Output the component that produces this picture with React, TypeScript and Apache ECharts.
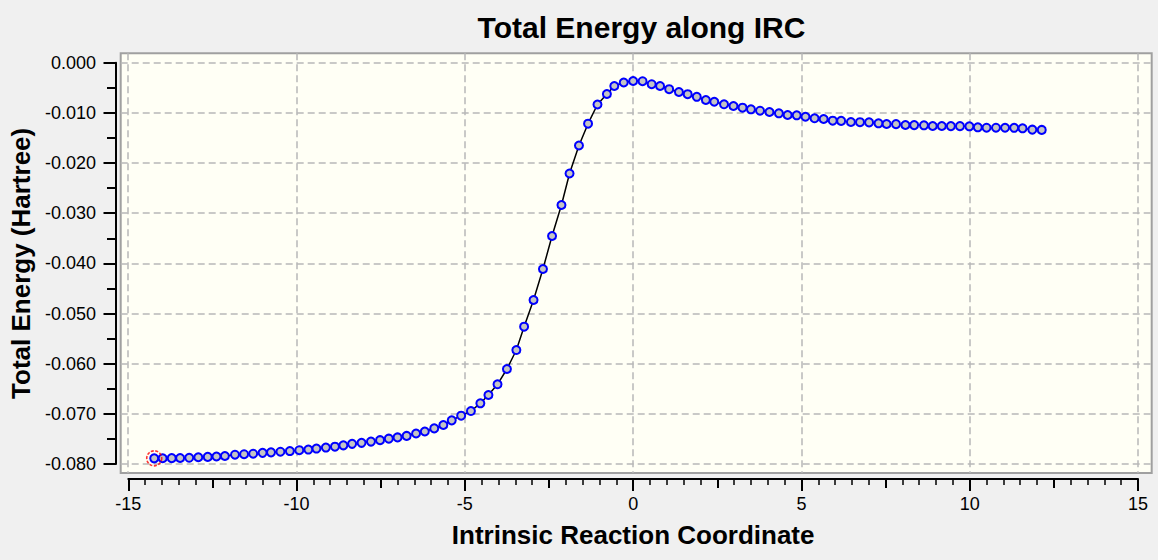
import React, { useEffect, useRef } from "react";
import * as echarts from "echarts";

// IRC coordinate of each computed point
const IRC_X = [
  -14.23, -13.98, -13.71, -13.46, -13.19, -12.92, -12.64, -12.38, -12.13, -11.83,
  -11.56, -11.29, -11.01, -10.76, -10.48, -10.2, -9.92, -9.65, -9.41, -9.13,
  -8.86, -8.61, -8.35, -8.07, -7.79, -7.52, -7.26, -7.0, -6.73, -6.45,
  -6.19, -5.91, -5.64, -5.39, -5.11, -4.82, -4.54, -4.3, -4.03, -3.75,
  -3.47, -3.24, -2.96, -2.68, -2.41, -2.13, -1.89, -1.61, -1.34, -1.06,
  -0.78, -0.56, -0.28, 0.0, 0.28, 0.55, 0.8, 1.07, 1.36, 1.62,
  1.89, 2.16, 2.41, 2.7, 2.98, 3.25, 3.5, 3.77, 4.05, 4.33,
  4.59, 4.86, 5.12, 5.39, 5.66, 5.93, 6.18, 6.47, 6.74, 7.01,
  7.29, 7.53, 7.81, 8.09, 8.35, 8.64, 8.9, 9.17, 9.44, 9.71,
  9.99, 10.24, 10.5, 10.78, 11.05, 11.32, 11.57, 11.86, 12.14,
];

// Total energy (Hartree) at each point
const ENERGY = [
  -0.07887, -0.07885, -0.07883, -0.0788, -0.07876, -0.07865, -0.07858, -0.0785, -0.0784, -0.07815,
  -0.07805, -0.07795, -0.07778, -0.07768, -0.07755, -0.07742, -0.07725, -0.07712, -0.07692, -0.07672,
  -0.07655, -0.07628, -0.07598, -0.07578, -0.07553, -0.07525, -0.07495, -0.0747, -0.0744, -0.07392,
  -0.07352, -0.0729, -0.07223, -0.0713, -0.07037, -0.06944, -0.0679, -0.06625, -0.06411, -0.06106,
  -0.05728, -0.05263, -0.04731, -0.04113, -0.03455, -0.02837, -0.02209, -0.01651, -0.01216, -0.00833,
  -0.00624, -0.00465, -0.00395, -0.00365, -0.00369, -0.00429, -0.00465, -0.00528, -0.00584, -0.00628,
  -0.0068, -0.00744, -0.00778, -0.00829, -0.00863, -0.00897, -0.00929, -0.00957, -0.00983, -0.01009,
  -0.01043, -0.01049, -0.01077, -0.01108, -0.01122, -0.01156, -0.0116, -0.01182, -0.01186, -0.0119,
  -0.01208, -0.01222, -0.01225, -0.01242, -0.01244, -0.01248, -0.01262, -0.01262, -0.01264, -0.01265,
  -0.01268, -0.01288, -0.01296, -0.01296, -0.01297, -0.01298, -0.01308, -0.01335, -0.0134,
];

const X_TICKS = [-15, -10, -5, 0, 5, 10, 15];
const Y_TICKS = [0, -0.01, -0.02, -0.03, -0.04, -0.05, -0.06, -0.07, -0.08];

const FONT = "'Liberation Sans', Arial, sans-serif";

export default function App() {
  const ref = useRef<HTMLDivElement>(null);

  useEffect(() => {
    if (!ref.current) return;
    const chart = echarts.init(ref.current, null, { renderer: "svg" });
    const gridLine = {
      show: true,
      lineStyle: { color: "#B8B8B8", width: 1.5, type: [7, 4] as any },
    };
    const option: any = {
      animation: false,
      backgroundColor: "#F0F0F0",
      title: {
        text: "Total Energy along IRC",
        left: 636.5,
        top: 7,
        textAlign: "center",
        textStyle: { fontFamily: FONT, fontWeight: "bold", fontSize: 30, color: "#000" },
      },
      grid: [
        {
          left: 120.7,
          top: 53.3,
          width: 1031,
          height: 419.7,
          show: true,
          backgroundColor: "#FFFFF5",
          borderColor: "#A0A0A0",
          borderWidth: 2,
        },
        { left: 128, top: 62.7, width: 1010, height: 401.3 },
      ],
      xAxis: [
        {
          gridIndex: 0,
          type: "value",
          min: -15.215,
          max: 15.405,
          axisLine: { show: false },
          axisTick: { show: false, customValues: X_TICKS },
          axisLabel: { show: false, customValues: X_TICKS },
          splitLine: gridLine,
        },
        {
          gridIndex: 1,
          type: "value",
          position: "bottom",
          min: -15,
          max: 15,
          interval: 5,
          offset: 15,
          axisLine: { show: true, onZero: false, lineStyle: { color: "#000", width: 2 } },
          axisTick: { show: true, length: 12, lineStyle: { color: "#000", width: 2 } },
          minorTick: { show: true, splitNumber: 10, length: 6, lineStyle: { color: "#000", width: 1.5 } },
          axisLabel: { margin: 16, fontSize: 18, color: "#000", fontFamily: FONT },
          splitLine: { show: false },
          name: "Intrinsic Reaction Coordinate",
          nameLocation: "middle",
          nameGap: 43,
          nameTextStyle: { fontFamily: FONT, fontWeight: "bold", fontSize: 26, color: "#000" },
        },
        {
          gridIndex: 1,
          type: "value",
          position: "bottom",
          min: -15,
          max: 15,
          interval: 2.5,
          offset: 15,
          axisLine: { show: false, onZero: false },
          axisTick: { show: true, length: 9, lineStyle: { color: "#000", width: 2 } },
          axisLabel: { show: false },
          splitLine: { show: false },
        },
      ],
      yAxis: [
        {
          gridIndex: 0,
          type: "value",
          min: -0.0818,
          max: 0.00187,
          axisLine: { show: false },
          axisTick: { show: false, customValues: Y_TICKS },
          axisLabel: { show: false, customValues: Y_TICKS },
          splitLine: gridLine,
        },
        {
          gridIndex: 1,
          type: "value",
          position: "left",
          min: -0.08,
          max: 0,
          interval: 0.01,
          offset: 12.3,
          axisLine: { show: true, onZero: false, lineStyle: { color: "#000", width: 2 } },
          axisTick: { show: true, length: 12.5, lineStyle: { color: "#000", width: 2 } },
          minorTick: { show: true, splitNumber: 2, length: 9, lineStyle: { color: "#000", width: 2 } },
          axisLabel: {
            margin: 20,
            fontSize: 18,
            color: "#000",
            fontFamily: FONT,
            formatter: (v: number) => v.toFixed(3),
          },
          splitLine: { show: false },
          name: "Total Energy (Hartree)",
          nameLocation: "middle",
          nameGap: 82,
          nameTextStyle: { fontFamily: FONT, fontWeight: "bold", fontSize: 26, color: "#000" },
        },
      ],
      series: [
        {
          type: "line",
          xAxisIndex: 1,
          yAxisIndex: 1,
          data: IRC_X.map((x, i) => [x, ENERGY[i]]),
          symbol: "circle",
          symbolSize: 8,
          showSymbol: true,
          showAllSymbol: true,
          lineStyle: { color: "#000", width: 1.5 },
          itemStyle: { color: "#C4C4C4", borderColor: "#0000FF", borderWidth: 2 },
          z: 3,
        },
        {
          type: "scatter",
          xAxisIndex: 1,
          yAxisIndex: 1,
          data: [[IRC_X[0], ENERGY[0]]],
          symbol: "circle",
          symbolSize: 15,
          itemStyle: {
            color: "rgba(0,0,0,0)",
            borderColor: "#FF0000",
            borderWidth: 1.6,
            borderType: [3, 1.5],
          },
          z: 4,
        },
      ],
    };
    chart.setOption(option);
    return () => chart.dispose();
  }, []);

  return (
    <div
      ref={ref}
      style={{ position: "fixed", left: 0, top: 0, width: 1158, height: 560 }}
    />
  );
}
